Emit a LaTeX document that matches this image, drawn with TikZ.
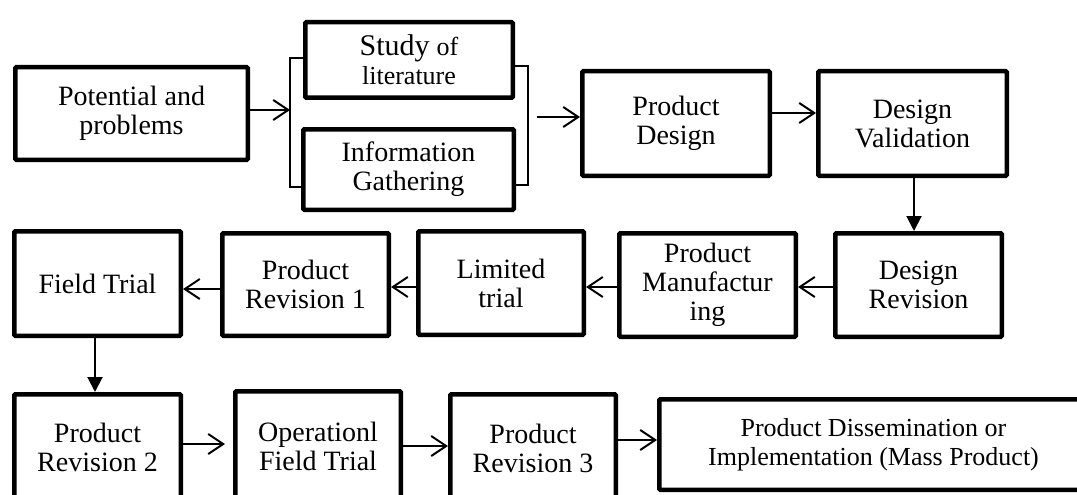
\documentclass[tikz,border=0pt]{standalone}
\usepackage{fontspec}
\setmainfont{Liberation Serif}
\usetikzlibrary{arrows.meta}
\begin{document}
\begin{tikzpicture}[x=1pt,y=-1pt,
  box/.style={draw, line width=4.5pt, rounded corners=1pt, align=center, inner sep=0pt,
    font=\fontsize{28}{29}\selectfont},
  harr/.style={line width=2pt, -{Straight Barb[length=15pt,width=20pt,line width=2pt]}},
  varr/.style={line width=2pt, -{Triangle[length=15pt,width=15pt]}},
  brk/.style={line width=1.5pt}]
\useasboundingbox[fill=white] (0,0) rectangle (1077,495);

% row 1
\node[box, minimum width=232.5pt, minimum height=92.5pt] (pot) at (131.5,113.5) {Potential and\\problems};
\node[box, minimum width=207.5pt, minimum height=75.5pt] (study) at (409,60)
  {{\fontsize{30}{29}\selectfont Study} {\fontsize{26}{29}\selectfont of}\\{\fontsize{26}{29}\selectfont literature}};
\node[box, minimum width=210.5pt, minimum height=80.5pt] (info) at (408.5,169.5) {Information\\Gathering};
\node[box, minimum width=187.5pt, minimum height=104.5pt] (pd) at (676,123.5) {Product\\Design};
\node[box, minimum width=188.5pt, minimum height=104.5pt] (dv) at (912.5,123.5) {Design\\Validation};

% row 2
\node[box, minimum width=166.5pt, minimum height=103.5pt] (dr) at (918.5,285) {Design\\Revision};
\node[box, minimum width=176.5pt, minimum height=103.5pt] (pm) at (707.5,285) {Product\\Manufactur\\ing};
\node[box, minimum width=165.5pt, minimum height=103.5pt] (lt) at (501,283) {Limited\\trial};
\node[box, minimum width=166.5pt, minimum height=102.5pt] (pr1) at (305.5,284.5) {Product\\Revision 1};
\node[box, minimum width=166.5pt, minimum height=104.5pt] (ft) at (97.5,283.5) {Field Trial};

% row 3
\node[box, minimum width=166.5pt, minimum height=105.5pt] (pr2) at (97.5,447) {Product\\Revision 2};
\node[box, minimum width=165.5pt, minimum height=109.5pt] (oft) at (318,446) {Operationl\\Field Trial};
\node[box, minimum width=165.5pt, minimum height=107.5pt] (pr3) at (533,448) {Product\\Revision 3};
\node[box, minimum width=428.5pt, minimum height=90.5pt, font=\fontsize{26}{29}\selectfont] (pdi) at (873.5,444.5)
  {Product Dissemination or\\Implementation (Mass Product)};

% brackets
\coordinate (lbt) at (290,58);
\coordinate (lbb) at (290,187);
\coordinate (lbm) at (290,110);
\coordinate (rbt) at (528,66);
\coordinate (rbb) at (528,185);
\coordinate (rbo) at (537,117);
\draw[brk] (study.west |- lbt) -- (lbt) -- (lbb) -- (info.west |- lbb);
\draw[brk] (study.east |- rbt) -- (rbt) -- (rbb) -- (info.east |- rbb);

% connectors
\draw[harr] (pot.east |- lbm) -- (lbm);
\draw[harr] (rbo) -- (pd.west |- rbo);
\draw[harr] ([yshift=10.5pt]pd.east) -- ([yshift=10.5pt]dv.west);
\draw[varr] ([xshift=1.5pt]dv.south) -- ([xshift=1.5pt]dv.south |- dr.north);
\draw[harr] ([yshift=-2pt]dr.west) -- ([yshift=-2pt]pm.east);
\draw[harr] ([yshift=-2pt]pm.west) -- ([yshift=-4pt]lt.east);
\draw[harr] ([yshift=-4pt]lt.west) -- ([yshift=-2.5pt]pr1.east);
\draw[harr] ([yshift=-4.5pt]pr1.west) -- ([yshift=-5.5pt]ft.east);
\draw[varr] ([xshift=-2.5pt]ft.south) -- ([xshift=-2.5pt]ft.south |- pr2.north);
\draw[harr] ([yshift=3pt]pr2.east) -- ([xshift=-8pt,yshift=2pt]oft.west);
\draw[harr] (oft.east) -- ([yshift=2pt]pr3.west);
\draw[harr] ([yshift=8pt]pr3.east) -- ([yshift=4.5pt]pdi.west);
\end{tikzpicture}
\end{document}
